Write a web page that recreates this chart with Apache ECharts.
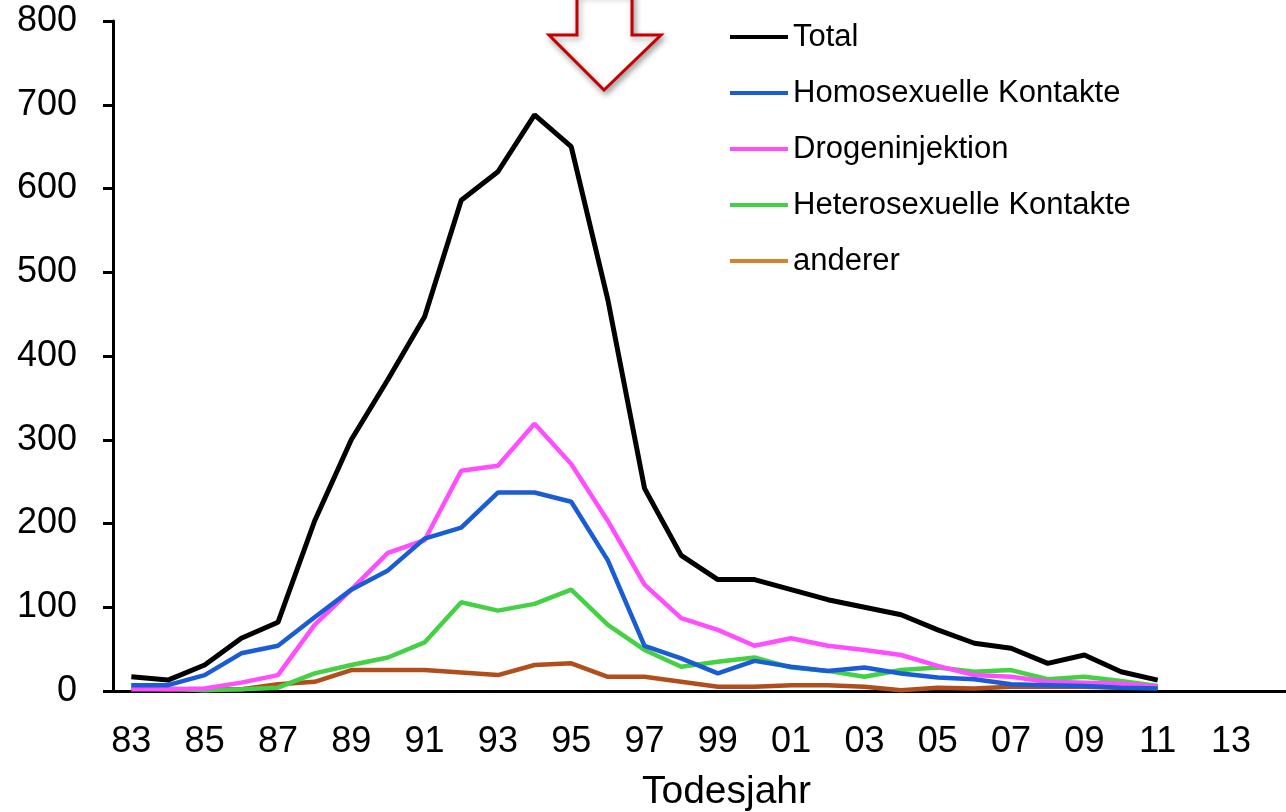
<!DOCTYPE html>
<html>
<head>
<meta charset="utf-8">
<script src="https://cdn.jsdelivr.net/npm/echarts@6/dist/echarts.min.js"></script>
<style>
  html, body { margin: 0; padding: 0; background: #fff; }
  #chart { width: 1286px; height: 812px; }
</style>
</head>
<body>
<div id="chart"></div>
<script>
// Todesjahr 1983 - 2014 (Daten bis 2011)
const years = ['83', '84', '85', '86', '87', '88', '89', '90', '91', '92', '93', '94', '95', '96', '97', '98', '99',
  '00', '01', '02', '03', '04', '05', '06', '07', '08', '09', '10', '11', '12', '13', '14'];

const total = [17, 13, 31, 63, 82, 203, 300, 372, 447, 586, 620, 688, 650, 467, 242, 162, 133,
  133, 121, 109, 100, 91, 73, 57, 51, 33, 43, 23, 13];
const homosexuell = [7, 7, 19, 45, 54, 88, 121, 144, 182, 195, 237, 237, 226, 156, 54, 39, 21,
  36, 29, 24, 28, 21, 16, 14, 8, 7, 6, 4, 3];
const drogen = [2, 2, 3, 10, 19, 79, 121, 165, 180, 263, 269, 319, 271, 203, 127, 87, 73,
  54, 63, 54, 49, 43, 30, 19, 17, 11, 10, 9, 5];
const heterosexuell = [7, 3, 1, 2, 4, 21, 31, 40, 58, 106, 96, 104, 121, 79, 49, 29, 35,
  40, 28, 24, 17, 25, 28, 23, 25, 14, 17, 12, 6];
const anderer = [4, 2, 2, 2, 8, 11, 25, 25, 25, 22, 19, 31, 33, 17, 17, 11, 5,
  5, 7, 7, 5, 1, 4, 3, 5, 5, 5, 4, 4];

const yTicks = [0, 100, 200, 300, 400, 500, 600, 700, 800];

const chart = echarts.init(document.getElementById('chart'));
const font = 'Liberation Sans, Arial, sans-serif';

// Grundeinstellung für alle Linien
const lineBase = {
  type: 'line',
  symbol: 'none',
  smooth: false,
  animation: false
};

chart.setOption({
  backgroundColor: '#fff',
  textStyle: { fontFamily: font },
  grid: {
    left: 113,
    right: 0,
    top: 21,
    bottom: 121,
    containLabel: false,
    outerBoundsMode: 'none'
  },
  legend: {
    orient: 'vertical',
    left: 725,
    top: 13,
    icon: 'rect',
    itemWidth: 58,
    itemHeight: 4,
    itemGap: 18,
    textStyle: {
      fontSize: 31,
      lineHeight: 32,
      color: '#000',
      fontFamily: font,
      padding: [6, 0, 0, 0]
    },
    data: [
      { name: 'Total' },
      { name: 'Homosexuelle Kontakte' },
      { name: 'Drogeninjektion' },
      { name: 'Heterosexuelle Kontakte' },
      { name: 'anderer', itemStyle: { color: '#d4822e' } }
    ]
  },
  xAxis: {
    type: 'category',
    data: years,
    boundaryGap: true,
    name: 'Todesjahr',
    nameLocation: 'middle',
    nameGap: 82,
    nameTextStyle: {
      fontSize: 39,
      color: '#000',
      padding: [0, 0, 0, 54]
    },
    axisLine: { lineStyle: { color: '#000', width: 3 } },
    axisTick: {
      interval: 0,
      length: 11,
      lineStyle: { color: '#000', width: 3 }
    },
    axisLabel: {
      interval: 1,
      margin: 33,
      fontSize: 36,
      color: '#000'
    },
    splitLine: { show: false }
  },
  yAxis: {
    type: 'value',
    min: yTicks[0],
    max: yTicks[yTicks.length - 1],
    interval: 100,
    axisLine: { show: true, lineStyle: { color: '#000', width: 3 } },
    axisTick: { show: true, length: 10, lineStyle: { color: '#000', width: 3 } },
    axisLabel: {
      margin: 36,
      fontSize: 36,
      color: '#000'
    },
    splitLine: { show: false }
  },
  // roter Pfeil oben
  graphic: [
    {
      type: 'polygon',
      shape: {
        points: [[577, -6], [577, 35], [549, 35], [604, 90], [661, 35], [632, 35], [632, -6]]
      },
      style: {
        fill: '#fff',
        stroke: '#c40000',
        lineWidth: 3,
        shadowBlur: 6,
        shadowOffsetX: 2,
        shadowOffsetY: 3,
        shadowColor: 'rgba(0,0,0,0.35)'
      },
      z: 10
    }
  ],
  series: [
    { ...lineBase, name: 'anderer', data: anderer, color: '#b04f1c', lineStyle: { width: 4.5, color: '#b04f1c' }, z: 2 },
    { ...lineBase, name: 'Heterosexuelle Kontakte', data: heterosexuell, color: '#44d144', lineStyle: { width: 4.5, color: '#44d144' }, z: 3 },
    { ...lineBase, name: 'Drogeninjektion', data: drogen, color: '#ff4dff', lineStyle: { width: 4.5, color: '#ff4dff' }, z: 4 },
    { ...lineBase, name: 'Homosexuelle Kontakte', data: homosexuell, color: '#1a5cd6', lineStyle: { width: 4.5, color: '#1a5cd6' }, z: 5 },
    { ...lineBase, name: 'Total', data: total, color: '#000', lineStyle: { width: 5, color: '#000' }, z: 6 }
  ]
});
</script>
</body>
</html>
